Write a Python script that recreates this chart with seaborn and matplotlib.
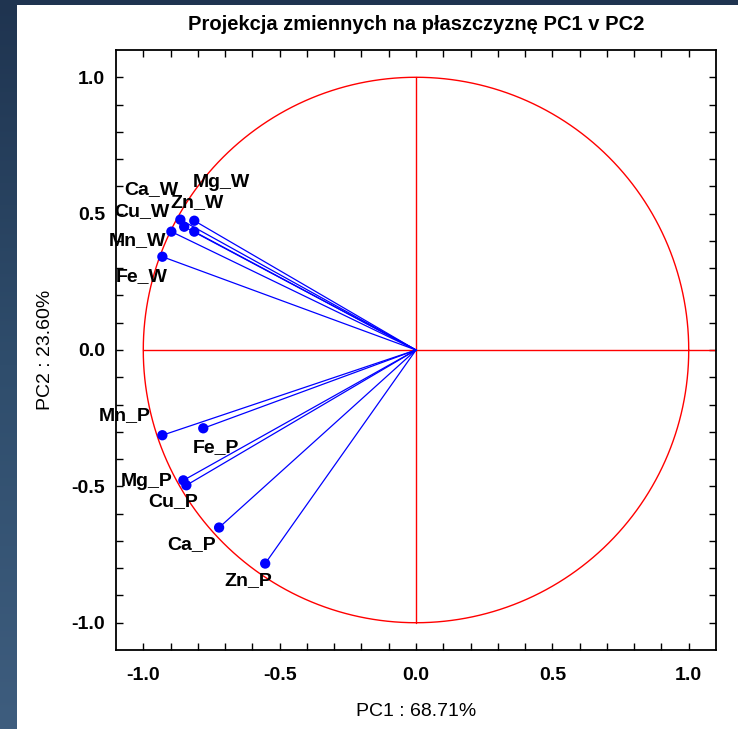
import numpy as np
import pandas as pd
import matplotlib
matplotlib.use("Agg")
import matplotlib.pyplot as plt
import seaborn as sns
from matplotlib.colors import LinearSegmentedColormap

# ---- data ----
variables = ["Ca_W", "Mg_W", "Cu_W", "Zn_W", "Mn_W", "Fe_W",
             "Mn_P", "Fe_P", "Mg_P", "Cu_P", "Ca_P", "Zn_P"]
pc1 = [-0.864, -0.813, -0.850, -0.813, -0.897, -0.930,
       -0.930, -0.780, -0.853, -0.842, -0.722, -0.553]
pc2 = [0.478, 0.474, 0.452, 0.434, 0.434, 0.342,
       -0.3125, -0.287, -0.478, -0.496, -0.651, -0.783]
x_ticks = [-1.0, -0.5, 0.0, 0.5, 1.0]
y_ticks = [-1.0, -0.5, 0.0, 0.5, 1.0]
title = "Projekcja zmiennych na płaszczyznę PC1 v PC2"
xlabel = "PC1 : 68.71%"
ylabel = "PC2 : 23.60%"

# label offsets (pixels) relative to points - layout only
label_offsets = {
    "Ca_W": (-29, 30), "Mg_W": (27, 38), "Cu_W": (-42, 15), "Zn_W": (3, 29),
    "Mn_W": (-34, -9), "Fe_W": (-21, -20), "Mn_P": (-38, 20), "Fe_P": (13, -19),
    "Mg_P": (-37, -1), "Cu_P": (-13, -16), "Ca_P": (-28, -17), "Zn_P": (-17, -17),
}

sns.set_theme(style="white")
plt.rcParams["font.family"] = ["Liberation Sans", "DejaVu Sans"]
plt.rcParams["text.color"] = "black"
plt.rcParams["axes.labelcolor"] = "black"
plt.rcParams["xtick.color"] = "black"
plt.rcParams["ytick.color"] = "black"

W, H = 738, 729
fig = plt.figure(figsize=(W / 100, H / 100), dpi=100)
fig.patch.set_facecolor("white")

# dark screenshot border strips (gradient)
cmap = LinearSegmentedColormap.from_list("bg", ["#1f3450", "#2f4d6c", "#3e5d7e"])
bl = fig.add_axes([0, 0, 17 / W, 1])
bl.imshow(np.linspace(0, 1, 256).reshape(-1, 1), aspect="auto", cmap=cmap,
          origin="upper", extent=[0, 1, 0, 1])
bl.set_axis_off()
bt = fig.add_axes([0, 1 - 5 / H, 1, 5 / H])
bt.imshow(np.zeros((1, 2)), aspect="auto", cmap=cmap, vmin=0, vmax=1,
          extent=[0, 1, 0, 1])
bt.set_axis_off()

ax = fig.add_axes([116 / W, 79 / H, 600 / W, 600 / H])
ax.set_facecolor("white")

# unit circle and cross
th = np.linspace(0, 2 * np.pi, 721)
ax.plot(np.cos(th), np.sin(th), color="#ff0000", lw=1.0, zorder=1)
ax.plot([-1, 1.1], [0, 0], color="#ff0000", lw=1.0, zorder=1)
ax.plot([0, 0], [-1, 1], color="#ff0000", lw=1.0, zorder=1)

df = pd.DataFrame({"var": variables, "PC1": pc1, "PC2": pc2})
rows = []
for v, a, b in zip(variables, pc1, pc2):
    rows.append({"var": v, "PC1": 0.0, "PC2": 0.0})
    rows.append({"var": v, "PC1": a, "PC2": b})
seg = pd.DataFrame(rows)
sns.lineplot(data=seg, x="PC1", y="PC2", units="var", estimator=None, sort=False,
             color="#0000ff", lw=0.9, ax=ax, zorder=2)
sns.scatterplot(data=df, x="PC1", y="PC2", color="#0000ff", s=55, edgecolor="none",
                ax=ax, zorder=3)

for v, a, b in zip(variables, pc1, pc2):
    dx, dy = label_offsets[v]
    ax.annotate(v, (a, b), xytext=(dx, dy), textcoords="offset pixels",
                ha="center", va="center", fontsize=14, fontweight="bold",
                color="black", zorder=4)

ax.set_xlim(-1.1, 1.1)
ax.set_ylim(-1.1, 1.1)
ax.set_xticks(x_ticks)
ax.set_yticks(y_ticks)
ax.set_xticklabels([f"{t:.1f}" for t in x_ticks])
ax.set_yticklabels([f"{t:.1f}" for t in y_ticks])
ax.set_xticks(np.round(np.arange(-1.0, 1.05, 0.1), 2), minor=True)
ax.set_yticks(np.round(np.arange(-1.0, 1.05, 0.1), 2), minor=True)
ax.tick_params(which="both", direction="in", top=True, right=True,
               bottom=True, left=True, length=5, width=1, color="black",
               labelcolor="black")
ax.tick_params(axis="x", which="major", pad=12, labelsize=14)
ax.tick_params(axis="y", which="major", pad=8, labelsize=14)
for lab in ax.get_xticklabels() + ax.get_yticklabels():
    lab.set_fontweight("bold")
for sp in ax.spines.values():
    sp.set_visible(True)
    sp.set_color("black")
    sp.set_linewidth(1.3)

ax.set_xlabel(xlabel, fontsize=14, color="black")
ax.xaxis.label.set_va("center")
ax.xaxis.set_label_coords(0.5, (650 - 712) / 600)
ax.set_ylabel(ylabel, fontsize=14, color="black")
ax.yaxis.label.set_va("center")
ax.yaxis.label.set_ha("center")
ax.yaxis.set_label_coords((45 - 116) / 600, 0.5)
ax.text(0.5, (650 - 24) / 600, title, transform=ax.transAxes, ha="center",
        va="center", fontsize=14.5, fontweight="bold", color="black")

fig.savefig("out.png", dpi=100)
